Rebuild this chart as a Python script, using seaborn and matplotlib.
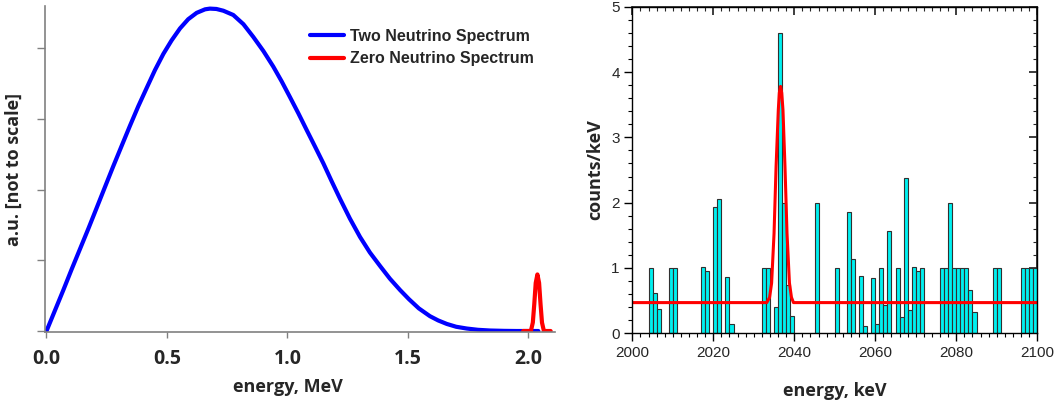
import numpy as np
import pandas as pd
import seaborn as sns
import matplotlib
matplotlib.use('Agg')
import matplotlib.pyplot as plt
from matplotlib.ticker import MultipleLocator

# left panel: 2nu and 0nu spectra (arbitrary units)
two_nu_energy = [0.0, 0.035, 0.070, 0.104, 0.139, 0.174, 0.208, 0.243, 0.277, 0.312,
                 0.346, 0.381, 0.416, 0.450, 0.485, 0.519, 0.554, 0.588, 0.623, 0.658,
                 0.678, 0.705, 0.734, 0.775, 0.817, 0.858, 0.900, 0.941, 0.976, 1.010,
                 1.045, 1.080, 1.114, 1.149, 1.183, 1.218, 1.259, 1.301, 1.342, 1.384,
                 1.425, 1.467, 1.504, 1.545, 1.591, 1.625, 1.661, 1.700, 1.744, 1.790,
                 1.840, 1.90, 1.95, 2.041]
two_nu_counts = [0.0, 0.29, 0.58, 0.87, 1.16, 1.45, 1.74, 2.04, 2.33, 2.62,
                 2.90, 3.18, 3.44, 3.69, 3.92, 4.11, 4.28, 4.41, 4.50, 4.55,
                 4.56, 4.555, 4.53, 4.47, 4.34, 4.16, 3.96, 3.74, 3.53, 3.31,
                 3.08, 2.84, 2.61, 2.37, 2.12, 1.87, 1.59, 1.33, 1.11, 0.92,
                 0.74, 0.58, 0.45, 0.32, 0.21, 0.15, 0.10, 0.06, 0.035, 0.017,
                 0.007, 0.002, 0.0, 0.0]
zero_nu_energy = [1.978, 2.010, 2.018, 2.024, 2.030, 2.037, 2.044, 2.050, 2.056, 2.064, 2.092]
zero_nu_counts = [0.0, 0.0, 0.12, 0.38, 0.68, 0.80, 0.68, 0.38, 0.12, 0.0, 0.0]

# right panel: measured spectrum, 1 keV bins (bin start, counts/keV)
bin_start = [2004, 2005, 2006, 2009, 2010, 2017, 2018, 2020, 2021, 2023, 2024,
             2032, 2033, 2035, 2036, 2037, 2038, 2039, 2045, 2050, 2053, 2054,
             2056, 2057, 2059, 2060, 2061, 2062, 2063, 2065, 2066, 2067, 2068,
             2069, 2070, 2071, 2076, 2077, 2078, 2079, 2080, 2081, 2082, 2083,
             2084, 2089, 2090, 2096, 2097, 2098, 2099]
bin_counts = [1.0, 0.62, 0.37, 1.0, 1.0, 1.02, 0.96, 1.93, 2.05, 0.86, 0.14,
              1.0, 1.0, 0.40, 4.59, 1.99, 0.74, 0.26, 2.0, 1.0, 1.85, 1.14,
              0.87, 0.11, 0.85, 0.14, 1.0, 0.43, 1.57, 1.0, 0.25, 2.38, 0.35,
              1.02, 0.96, 1.0, 1.0, 1.0, 2.0, 1.0, 1.0, 1.0, 1.0, 0.67,
              0.32, 1.0, 1.0, 1.0, 1.0, 1.0, 1.0]
fit_energy = [2000, 2033.2, 2033.9, 2034.4, 2035.0, 2035.5, 2036.05, 2036.3, 2036.6,
              2036.9, 2037.2, 2037.7, 2038.2, 2038.8, 2039.3, 2039.8, 2100]
fit_counts = [0.47, 0.47, 0.55, 0.77, 1.53, 2.55, 3.42, 3.68, 3.78,
              3.68, 3.42, 2.55, 1.53, 0.77, 0.55, 0.47, 0.47]

sns.set_theme(style='ticks')
plt.rcParams['font.family'] = ['Open Sans', 'DejaVu Sans']

fig = plt.figure(figsize=(10.59, 4.0), dpi=100)

# ---- left panel
ax1 = fig.add_axes([45/1059, 1 - 332/400, 510/1059, 326/400])
sns.lineplot(x=two_nu_energy, y=two_nu_counts, ax=ax1, color='#0000ff', lw=3,
             sort=False, estimator=None, label='Two Neutrino Spectrum')
sns.lineplot(x=zero_nu_energy, y=zero_nu_counts, ax=ax1, color='#ff0000', lw=3,
             sort=False, estimator=None, label='Zero Neutrino Spectrum')
ax1.set_xlim(-0.0062, 2.110)
ax1.set_ylim(-0.014, 4.597)
ax1.set_xticks([0.0, 0.5, 1.0, 1.5, 2.0])
ax1.set_xticklabels(['0.0', '0.5', '1.0', '1.5', '2.0'], fontsize=14, fontweight='bold')
ax1.set_yticks([0, 1, 2, 3, 4])
ax1.set_yticklabels([])
ax1.tick_params(axis='x', length=4, width=1, color='#808080', pad=8)
ax1.tick_params(axis='y', length=6, width=1, color='#808080')
for side in ['top', 'right']:
    ax1.spines[side].set_visible(False)
for side in ['left', 'bottom']:
    ax1.spines[side].set_color('#808080')
    ax1.spines[side].set_linewidth(1.2)
ax1.set_xlabel('energy, MeV', fontsize=13, fontweight='bold')
ax1.set_ylabel('a.u. [not to scale]', fontsize=13, fontweight='bold')
ax1.xaxis.set_label_coords((288 - 45) / 510, -0.14)
ax1.yaxis.set_label_coords(-0.043, 0.5)
ax1.legend(loc='upper left', bbox_to_anchor=(310/1059, 1 - 29/400), bbox_transform=fig.transFigure,
           frameon=False, borderpad=0, borderaxespad=0, handlelength=2.1, handletextpad=0.4,
           labelspacing=0.45, prop={'family': 'Liberation Sans', 'weight': 'bold', 'size': 11.5})

# ---- right panel
ax2 = fig.add_axes([632.3/1059, 1 - 333.3/400, 405/1059, 326.6/400])
sns.histplot(x=np.array(bin_start) + 0.5, weights=bin_counts, binwidth=1, binrange=(2000, 2100),
             ax=ax2, color='#00f0f0', edgecolor='#303030', linewidth=0.8, alpha=1)
for p in ax2.patches:
    if p.get_height() == 0:
        p.set_visible(False)
sns.lineplot(x=fit_energy, y=fit_counts, ax=ax2, color='#ff0000', lw=2.2, sort=False, estimator=None)
ax2.set_xlim(2000, 2100)
ax2.set_ylim(0, 5)
ax2.set_xticks(range(2000, 2101, 20))
ax2.set_yticks(range(0, 6))
ax2.xaxis.set_minor_locator(MultipleLocator(2))
ax2.yaxis.set_minor_locator(MultipleLocator(0.2))
for lab in ax2.get_xticklabels() + ax2.get_yticklabels():
    lab.set_family('Liberation Sans')
    lab.set_fontsize(11)
ax2.tick_params(which='major', direction='out', length=6, width=1, color='black', pad=3)
ax2.tick_params(which='minor', direction='out', length=3, width=0.8, color='black')
for side in ax2.spines:
    ax2.spines[side].set_color('black')
    ax2.spines[side].set_linewidth(1)
top = ax2.secondary_xaxis('top')
top.set_xticks(range(2000, 2101, 20))
top.xaxis.set_minor_locator(MultipleLocator(2))
top.tick_params(which='major', direction='in', length=6, labeltop=False)
top.tick_params(which='minor', direction='in', length=3, width=0.8)
right = ax2.secondary_yaxis('right')
right.set_yticks(range(0, 6))
right.yaxis.set_minor_locator(MultipleLocator(0.2))
right.tick_params(which='major', direction='in', length=6, labelright=False)
right.tick_params(which='minor', direction='in', length=3, width=0.8)
ax2.set_xlabel('energy, keV', fontsize=13, fontweight='bold')
ax2.set_ylabel('counts/keV', fontsize=13, fontweight='bold')
ax2.xaxis.set_label_coords(0.5, -0.15)
ax2.yaxis.set_label_coords(-0.07, 0.5)

fig.savefig('out.png', dpi=100)
